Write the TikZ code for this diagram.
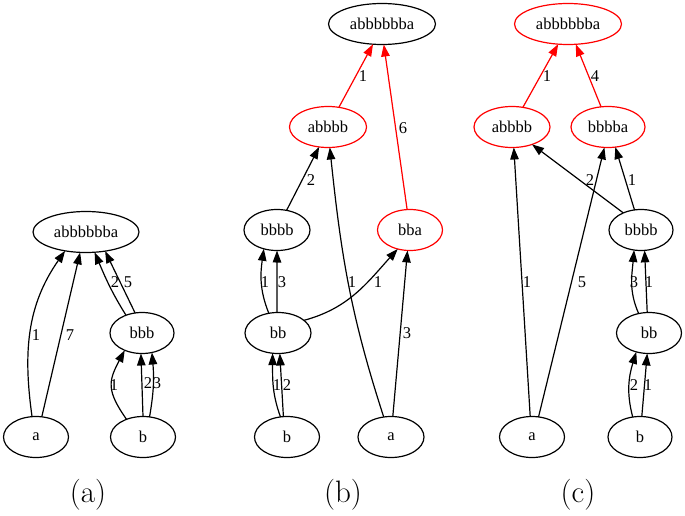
\documentclass[tikz,border=0pt]{standalone}
\usepackage{fontspec}
\newfontfamily\nodefont{Liberation Serif}
\usetikzlibrary{shapes.geometric,arrows.meta}
\begin{document}
\begin{tikzpicture}[x=1pt,y=1pt,
  gn/.style={ellipse,draw,line width=1.2pt,inner sep=0pt,outer sep=0pt,minimum height=41pt,font=\nodefont\fontsize{16.5}{18}\selectfont},
  rn/.style={gn,draw=red},
  edg/.style={line width=1.2pt,-{Triangle[length=12pt,width=8.5pt]}},
  redg/.style={edg,draw=red,fill=red},
  lbl/.style={inner sep=0pt,font=\nodefont\fontsize{16.5}{18}\selectfont},
  captxt/.style={inner sep=0pt,font=\fontsize{31}{36}\selectfont}
]
\useasboundingbox (0,-516) rectangle (685,0);
% panel (a)
\node[gn,minimum width=106pt] (aT) at (86,-232) {abbbbbba};
\node[gn,minimum width=64pt] (aBBB) at (142,-333) {bbb};
\node[gn,minimum width=65pt] (aA) at (36,-437) {a};
\node[gn,minimum width=65pt] (aB) at (143,-437) {b};
% panel (b)
\node[gn,minimum width=107pt] (bT) at (382,-24) {abbbbbba};
\node[rn,minimum width=77pt] (bABBBB) at (328,-127) {abbbb};
\node[gn,minimum width=66pt] (bBBBB) at (277,-230) {bbbb};
\node[rn,minimum width=65pt] (bBBA) at (410,-230) {bba};
\node[gn,minimum width=66pt] (bBB) at (278,-333) {bb};
\node[gn,minimum width=65pt] (bB) at (287,-437) {b};
\node[gn,minimum width=66pt] (bA) at (391,-437) {a};
% panel (c)
\node[rn,minimum width=107pt] (cT) at (568,-24) {abbbbbba};
\node[rn,minimum width=76pt] (cABBBB) at (512,-127) {abbbb};
\node[rn,minimum width=74pt] (cBBBBA) at (608,-127) {bbbba};
\node[gn,minimum width=64pt] (cBBBB) at (641,-230) {bbbb};
\node[gn,minimum width=65pt] (cBB) at (649,-333) {bb};
\node[gn,minimum width=65pt] (cA) at (532,-437) {a};
\node[gn,minimum width=64pt] (cB) at (640,-437) {b};
% captions
\node[captxt] (capA) at (88,-495) {(a)};
\node[captxt] (capB) at (343,-495) {(b)};
\node[captxt] (capC) at (578,-495) {(c)};
% edges (a)
\draw[edg] (aA.101) to[out=98,in=235] (aT.222);
\draw[edg] (aA.74) -- (aT.254);
\draw[edg] (aBBB.132) to[out=122,in=293] (aT.293);
\draw[edg] (aBBB.109) -- (aT.315);
\draw[edg] (aB.133) to[out=125,in=242,looseness=1.3] (aBBB.225);
\draw[edg] (aB.90) -- (aBBB.267);
\draw[edg] (aB.72) to[out=80,in=275] (aBBB.297);
\node[lbl] (la1) at (36,-335) {1};
\node[lbl] (la2) at (70,-335) {7};
\node[lbl] (la3) at (115,-282) {2};
\node[lbl] (la4) at (128,-282) {5};
\node[lbl] (la5) at (114,-385) {1};
\node[lbl] (la6) at (148,-383) {2};
\node[lbl] (la7) at (157,-383) {3};
% edges (b)
\draw[redg] (bABBBB.61) -- (bT.246);
\draw[redg] (bBBA.98) -- (bT.275);
\draw[edg] (bBBBB.64) -- (bABBBB.246);
\draw[edg] (bA.110) to[out=108,in=276] (bABBBB.275);
\draw[edg] (bA.85) -- (bBBA.263);
\draw[edg] (bBB.115) to[out=112,in=262] (bBBBB.235);
\draw[edg] (bBB.93) -- (bBBBB.270);
\draw[edg] (bBB.26) to[out=15,in=228] (bBBA.237);
\draw[edg] (bB.108) to[out=110,in=270] (bBB.255);
\draw[edg] (bB.100) -- (bBB.275);
\node[lbl] (lb1) at (363,-76) {1};
\node[lbl] (lb2) at (403,-128) {6};
\node[lbl] (lb3) at (311,-180) {2};
\node[lbl] (lb4) at (352,-282) {1};
\node[lbl] (lb5) at (407,-333) {3};
\node[lbl] (lb6) at (265,-282) {1};
\node[lbl] (lb7) at (282,-282) {3};
\node[lbl] (lb8) at (378,-282) {1};
\node[lbl] (lb9) at (277,-385) {1};
\node[lbl] (lb10) at (287,-385) {2};
% edges (c)
\draw[redg] (cABBBB.61) -- (cT.244);
\draw[redg] (cBBBBA.109) -- (cT.291);
\draw[edg] (cBBBB.136) -- (cABBBB.319);
\draw[edg] (cBBBB.108) -- (cBBBBA.290);
\draw[edg] (cA.95) -- (cABBBB.275);
\draw[edg] (cA.72) -- (cBBBBA.260);
\draw[edg] (cBB.118) to[out=114,in=265] (cBBBB.251);
\draw[edg] (cBB.95) -- (cBBBB.280);
\draw[edg] (cB.110) to[out=105,in=253] (cBB.236);
\draw[edg] (cB.85) -- (cBB.265);
\node[lbl] (lc1) at (547,-76) {1};
\node[lbl] (lc2) at (595,-76) {4};
\node[lbl] (lc3) at (590,-180) {2};
\node[lbl] (lc4) at (632,-180) {1};
\node[lbl] (lc5) at (527,-282) {1};
\node[lbl] (lc6) at (582,-282) {5};
\node[lbl] (lc7) at (634,-282) {3};
\node[lbl] (lc8) at (649,-282) {1};
\node[lbl] (lc9) at (634,-385) {2};
\node[lbl] (lc10) at (648,-385) {1};
\end{tikzpicture}
\end{document}
